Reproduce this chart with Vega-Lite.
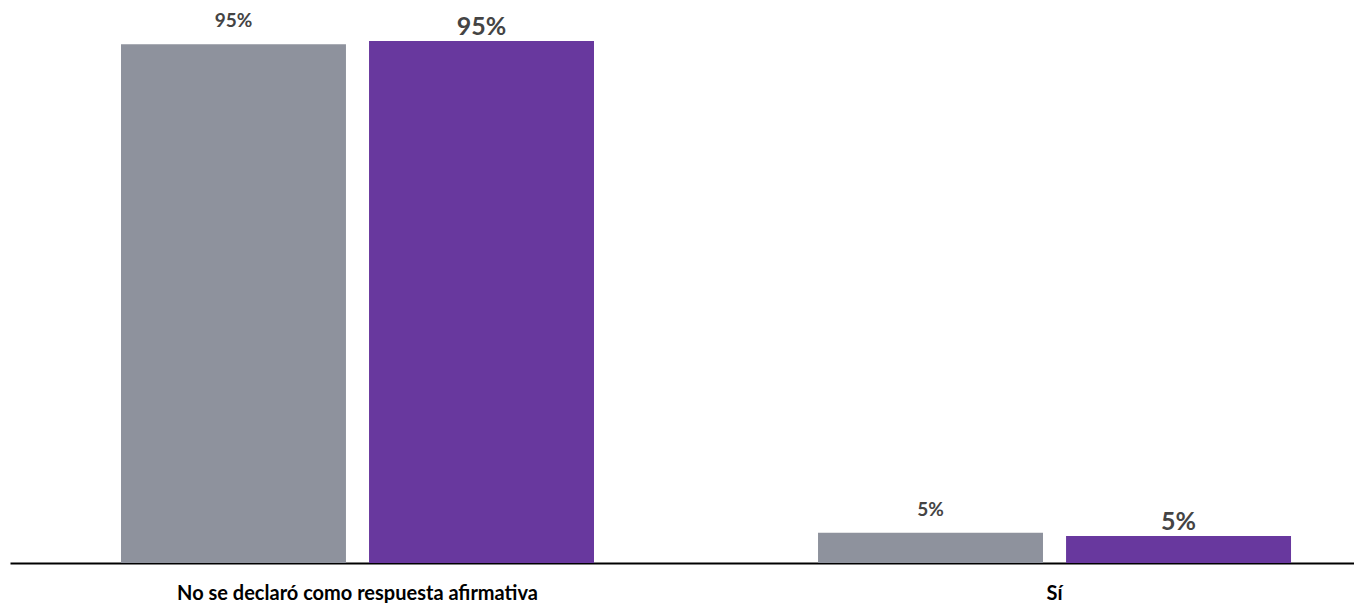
{
  "$schema": "https://vega.github.io/schema/vega-lite/v6.json",
  "autosize": "none",
  "width": 1344,
  "height": 549,
  "padding": {"left": 10, "top": 14, "right": 0, "bottom": 40},
  "background": "white",
  "config": {"view": {"stroke": null}, "font": "Lato"},
  "data": {"values": [
    {"categoria": "No se declaró como respuesta afirmativa", "serie": "Serie 1", "valor": 94.5, "etiqueta": "95%"},
    {"categoria": "No se declaró como respuesta afirmativa", "serie": "Serie 2", "valor": 95.1, "etiqueta": "95%"},
    {"categoria": "Sí", "serie": "Serie 1", "valor": 5.5, "etiqueta": "5%"},
    {"categoria": "Sí", "serie": "Serie 2", "valor": 4.9, "etiqueta": "5%"}
  ]},
  "encoding": {
    "x": {"field": "categoria", "type": "nominal", "sort": null,
      "scale": {"paddingInner": 0.3214, "paddingOuter": 0.1248, "align": 0.638},
      "axis": {"title": null, "labelAngle": 0, "ticks": false, "domainColor": "#000000", "domainWidth": 2, "labelLimit": 0,
        "labelFont": "Lato", "labelFontWeight": "bold", "labelFontSize": 20, "labelColor": "#000000", "labelPadding": 20}},
    "xOffset": {"field": "serie", "type": "nominal", "scale": {"paddingInner": 0.093, "paddingOuter": 0}},
    "y": {"field": "valor", "type": "quantitative", "scale": {"domain": [0, 100], "nice": false}, "axis": null}
  },
  "layer": [
    {"mark": {"type": "bar"},
     "encoding": {"color": {"field": "serie", "type": "nominal", "legend": null,
       "scale": {"domain": ["Serie 1", "Serie 2"], "range": ["#8e929d", "#68389e"]}}}},
    {"transform": [{"filter": "datum.serie === 'Serie 1'"}],
     "mark": {"type": "text", "baseline": "bottom", "dy": -13, "font": "Lato", "fontSize": 19, "fontWeight": "bold", "color": "#444444"},
     "encoding": {"text": {"field": "etiqueta"}}},
    {"transform": [{"filter": "datum.serie === 'Serie 2'"}],
     "mark": {"type": "text", "baseline": "bottom", "dy": -1, "font": "Lato", "fontSize": 25, "fontWeight": "bold", "color": "#444444"},
     "encoding": {"text": {"field": "etiqueta"}}}
  ]
}
